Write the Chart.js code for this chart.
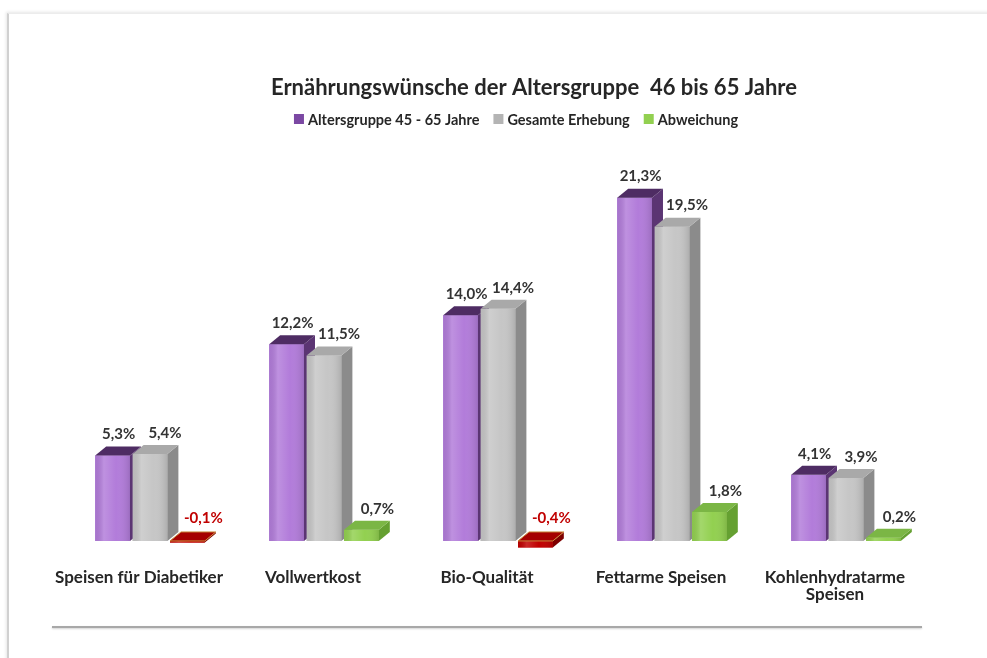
<!DOCTYPE html>
<html>
<head>
<meta charset="utf-8">
<title>Ernährungswünsche</title>
<script src="https://cdn.jsdelivr.net/npm/chart.js@4.4.1/dist/chart.umd.min.js"></script>
<style>
  html, body { margin: 0; padding: 0; background: #fff; }
  #wrap { position: relative; width: 987px; height: 658px; overflow: hidden; }
  #frame { position: absolute; left: 7px; top: 13px; width: 1000px; height: 700px;
           border-left: 2px solid #d0d0d0; border-top: 1px solid #ececec;
           box-shadow: -1px -1px 3px rgba(0,0,0,0.10); }
  #rule { position: absolute; left: 52px; top: 626px; width: 870px; height: 2px;
          background: #a8a8a8; box-shadow: 0 1px 2px rgba(0,0,0,0.18); }
  #chart { position: absolute; left: 0; top: 0; }
</style>
</head>
<body>
<div id="wrap">
  <div id="frame"></div>
  <div id="rule"></div>
  <canvas id="chart" width="987" height="658"></canvas>
</div>
<script>
// data
const categories = [
  'Speisen für Diabetiker',
  'Vollwertkost',
  'Bio-Qualität',
  'Fettarme Speisen',
  ['Kohlenhydratarme', 'Speisen']
];
const seriesNames = ['Altersgruppe 45 - 65 Jahre', 'Gesamte Erhebung', 'Abweichung'];
const altersgruppe = [5.3, 12.2, 14.0, 21.3, 4.1];
const gesamt = [5.4, 11.5, 14.4, 19.5, 3.9];
const abweichung = [-0.1, 0.7, -0.4, 1.8, 0.2];

const FONT = 'Lato, "Open Sans", "DejaVu Sans", sans-serif';
const DX = 11, DY = 9;   // depth of the 3d look

const frontColors = ['#b27cda', '#c6c6c6', '#92d050'];
const faceColors = [
  { top: '#4e2c63', side: '#5b3573' },
  { top: '#a9a9a9', side: '#8b8b8b' },
  { top: '#7bb645', side: '#65a031' }
];
const negFront = '#c00000';
const negFace = { top: '#a50000', side: '#7e0000' };
const legendMarks = ['#7b48a3', '#b4b4b4', '#92d050'];

function fmt(v) {
  return v.toFixed(1).replace('.', ',') + '%';
}

// chart.js draws dataset 0 last, so the 3d boxes are painted here again
// from the bar elements, first series first
const bars3d = {
  id: 'bars3d',
  afterDatasetsDraw(chart) {
    const ctx = chart.ctx;
    chart.data.datasets.forEach((ds, i) => {
      chart.getDatasetMeta(i).data.forEach((bar, j) => {
        const v = ds.data[j];
        const left = bar.x - bar.width / 2, right = bar.x + bar.width / 2;
        const top = Math.min(bar.y, bar.base), bottom = Math.max(bar.y, bar.base);
        const c = v < 0 ? negFace : faceColors[i];
        ctx.save();
        // front
        ctx.fillStyle = v < 0 ? negFront : frontColors[i];
        ctx.fillRect(left, top, right - left, bottom - top);
        const g = ctx.createLinearGradient(left, 0, right, 0);
        g.addColorStop(0, 'rgba(0,0,0,0.06)');
        g.addColorStop(0.25, 'rgba(255,255,255,0.16)');
        g.addColorStop(0.6, 'rgba(255,255,255,0)');
        g.addColorStop(1, 'rgba(0,0,0,0.12)');
        ctx.fillStyle = g;
        ctx.fillRect(left, top, right - left, bottom - top);
        // side
        ctx.beginPath();
        ctx.moveTo(right, top);
        ctx.lineTo(right + DX, top - DY);
        ctx.lineTo(right + DX, bottom - DY);
        ctx.lineTo(right, bottom);
        ctx.closePath();
        ctx.fillStyle = c.side;
        ctx.fill();
        // top
        ctx.beginPath();
        ctx.moveTo(left, top);
        ctx.lineTo(left + DX, top - DY);
        ctx.lineTo(right + DX, top - DY);
        ctx.lineTo(right, top);
        ctx.closePath();
        ctx.fillStyle = c.top;
        ctx.fill();
        if (v < 0) {
          ctx.strokeStyle = '#c98a3c';
          ctx.lineWidth = 1;
          ctx.stroke();
        }
        ctx.restore();
      });
    });
  }
};

const labelOffsets = [6, 15, 16];
const valueLabels = {
  id: 'valueLabels',
  afterDatasetsDraw(chart) {
    const ctx = chart.ctx;
    ctx.save();
    ctx.font = 'bold 15px ' + FONT;
    ctx.textAlign = 'center';
    ctx.textBaseline = 'middle';
    chart.data.datasets.forEach((ds, i) => {
      chart.getDatasetMeta(i).data.forEach((bar, j) => {
        const v = ds.data[j];
        const y = v < 0 ? bar.base - 23 : bar.y - 21;
        ctx.fillStyle = v < 0 ? '#c00000' : '#333333';
        ctx.fillText(fmt(v), bar.x + labelOffsets[i], y);
      });
    });
    ctx.restore();
  }
};

const header = {
  id: 'header',
  afterDraw(chart) {
    const ctx = chart.ctx;
    ctx.save();
    ctx.fillStyle = '#262626';
    ctx.textBaseline = 'middle';
    ctx.textAlign = 'center';
    ctx.font = 'bold 22px ' + FONT;
    ctx.fillText('Ernährungswünsche der Altersgruppe  46 bis 65 Jahre', 534, 88);

    // legend
    ctx.font = 'bold 14.5px ' + FONT;
    ctx.textAlign = 'left';
    const mark = 10, gapIn = 4, gapOut = 14;
    const widths = seriesNames.map(n => mark + gapIn + ctx.measureText(n).width);
    const total = widths.reduce((a, b) => a + b, 0) + gapOut * (seriesNames.length - 1);
    let x = 516 - total / 2;
    const y = 119;
    seriesNames.forEach((n, k) => {
      ctx.fillStyle = legendMarks[k];
      ctx.fillRect(x, y - mark / 2, mark, mark);
      ctx.fillStyle = '#262626';
      ctx.fillText(n, x + mark + gapIn, y + 1);
      x += widths[k] + gapOut;
    });
    ctx.restore();
  }
};

new Chart(document.getElementById('chart'), {
  type: 'bar',
  data: {
    labels: categories,
    datasets: [
      { label: seriesNames[0], data: altersgruppe, backgroundColor: frontColors[0] },
      { label: seriesNames[1], data: gesamt, backgroundColor: frontColors[1] },
      { label: seriesNames[2], data: abweichung,
        backgroundColor: abweichung.map(v => v < 0 ? negFront : frontColors[2]) }
    ]
  },
  options: {
    responsive: false,
    animation: false,
    events: [],
    datasets: { bar: { barPercentage: 0.93, categoryPercentage: 0.645 } },
    layout: { padding: { left: 63, right: 54, top: 138, bottom: 35 } },
    plugins: {
      legend: { display: false },
      title: { display: false },
      tooltip: { enabled: false }
    },
    scales: {
      x: {
        grid: { display: false, drawTicks: false },
        border: { display: false },
        ticks: {
          padding: 20,
          labelOffset: -11,
          maxRotation: 0,
          minRotation: 0,
          autoSkip: false,
          color: '#262626',
          font: { family: FONT, size: 17, weight: 'bold', lineHeight: 1.0 }
        }
      },
      y: {
        display: false,
        min: -0.5,
        max: 25
      }
    }
  },
  plugins: [bars3d, valueLabels, header]
});
</script>
</body>
</html>
